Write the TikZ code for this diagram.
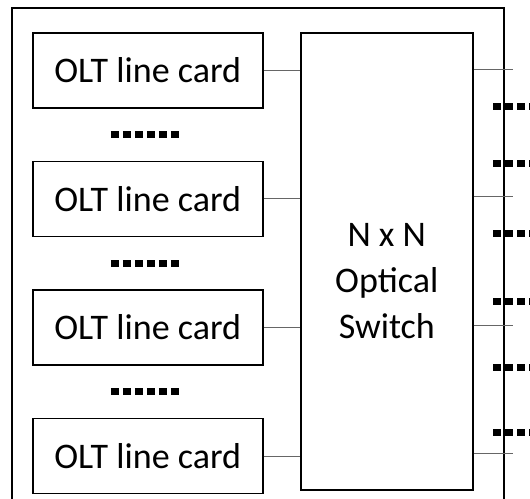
\documentclass[tikz,border=0pt]{standalone}
\usepackage{fontspec}
\setmainfont{Carlito}
\usetikzlibrary{positioning, calc}

\begin{document}
\begin{tikzpicture}[
  x=0.02cm, y=-0.02cm,
  card/.style={draw, line width=0.9pt, minimum width=4.6cm, minimum height=1.5cm, inner sep=0pt, font=\fontsize{20.5}{24}\selectfont},
  switch/.style={draw, line width=0.9pt, minimum width=3.44cm, minimum height=9.14cm},
  swlabel/.style={align=center, font=\fontsize{20.5}{26}\selectfont},
  link/.style={draw=gray!80!black, line width=0.5pt},
  dots/.style={line width=0.14cm, dash pattern=on 0.16cm off 0.08cm},
  frame/.style={draw, line width=0.9pt}
]
\useasboundingbox (0,0) rectangle (530,498);
\draw[frame] (12,520) -- (12,8) -- (504,8) -- (504,520);
\node[card, anchor=north west] (c1) at (32,32) {OLT line card};
\node[card, below=1.04cm of c1] (c2) {OLT line card};
\node[card, below=1.04cm of c2] (c3) {OLT line card};
\node[card, below=1.04cm of c3] (c4) {OLT line card};
\node[switch, anchor=north west] (sw) at (300,32) {};
\node[swlabel] (swl) at ($(sw.center)+(0,20)$) {N x N\\Optical\\Switch};
% links from cards into the switch
\foreach \c in {c1, c2, c3, c4}
  \draw[link] (\c.east) -- (sw.west |- \c.east);
% outputs of the switch
\foreach \c/\y in {c1/69, c2/196, c3/325, c4/453} {
  \coordinate (o\c) at (513,\y);
  \draw[link] (sw.east |- o\c) -- (o\c);
}
% dots between the cards
\foreach \a/\b in {c1/c2, c2/c3, c3/c4}
  \draw[dots] ($(\a.south)!0.5!(\b.north) + (-37,0)$) -- ++(68,0);
% dotted fibres leaving the frame
\foreach \y in {106, 163, 233, 301, 367, 432}
  \draw[dots] (493,\y) -- (540,\y);
\end{tikzpicture}
\end{document}
